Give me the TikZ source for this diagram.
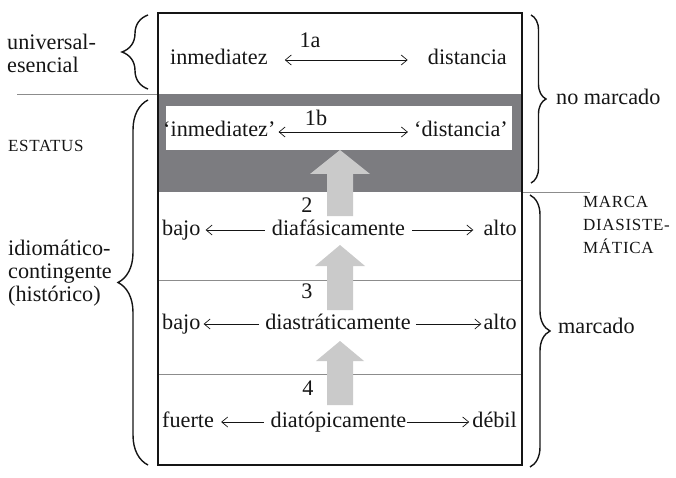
\documentclass[tikz,border=0pt]{standalone}
\usepackage{fontspec}
\setmainfont{Liberation Serif}
\usetikzlibrary{arrows.meta,decorations.pathreplacing}
\definecolor{band}{HTML}{7C7C80}
\definecolor{arrowfill}{HTML}{CACACA}
\definecolor{rulegrey}{HTML}{8C8C8C}
\definecolor{ink}{HTML}{151515}
\begin{document}
\begin{tikzpicture}[x=1pt,y=-1pt,
  every node/.style={inner sep=0pt, text=ink},
  txt/.style={font=\fontsize{22.2}{23}\selectfont, text height=10pt, text depth=0pt},
  lbl/.style={font=\fontsize{22.2}{23}\selectfont, align=left},
  caps/.style={font=\fontsize{17}{23}\selectfont\addfontfeature{LetterSpace=4}, align=left},
  conn/.style={draw=ink, line width=0.7pt, -{Straight Barb[length=6pt,width=10pt]}},
  dconn/.style={draw=ink, line width=0.7pt, {Straight Barb[length=6pt,width=10pt]}-{Straight Barb[length=6pt,width=10pt]}},
  bigarr/.style={fill=arrowfill},
  rowrule/.style={draw=rulegrey, line width=0.8pt},
  lbrace/.style={decorate, decoration={brace, amplitude=#1}, draw=ink, line width=1.4pt},
  frame/.style={draw=ink, line width=1.4pt}
]
\useasboundingbox (0,0) rectangle (676,478);

% shaded band and inner white strip
\fill[band] (158,94) rectangle (522,192);
\fill[white] (166,106) rectangle (512,150);

% rules
\draw[rowrule] (158,280) -- (522,280);
\draw[rowrule] (158,374) -- (522,374);
\draw[rowrule] (17,94) -- (158,94);
\draw[rowrule] (522,192) -- (590,192);

% big upward arrows
\fill[bigarr] (327,216) -- (327,174) -- (310,174) -- (340,150) -- (370,174) -- (353,174) -- (353,216) -- cycle;
\fill[bigarr] (327,310) -- (327,266) -- (315,266) -- (340,245) -- (365,266) -- (353,266) -- (353,310) -- cycle;
\fill[bigarr] (327,405) -- (327,361) -- (316,361) -- (340,341) -- (364,361) -- (353,361) -- (353,405) -- cycle;

% frame
\draw[frame] (158,13) rectangle (522,465);

% row 1a
\node[txt, anchor=base west] (inm) at (170,65) {inmediatez};
\node[txt, anchor=base east] (dis) at (507,65) {distancia};
\node[txt, anchor=base] (n1a) at (310,48) {1a};
\draw[dconn, shorten <=17pt, shorten >=20pt] (inm.east) -- (dis.west);

% row 1b
\node[txt, anchor=base west] (inmq) at (163,137) {‘inmediatez’};
\node[txt, anchor=base east] (disq) at (508,137) {‘distancia’};
\node[txt, anchor=base] (n1b) at (316,126) {1b};
\draw[dconn, shorten <=3pt, shorten >=6pt] (inmq.east) -- (disq.west);

% row 2
\node[txt, anchor=base west] (bajo2) at (162,235) {bajo};
\node[txt, anchor=base] (dfa) at (338.5,235) {diafásicamente};
\node[txt, anchor=base east] (alto2) at (517,235) {alto};
\node[txt, anchor=base] (n2) at (307,212) {2};
\draw[conn, shorten <=7pt, shorten >=5pt] (dfa.west) -- (bajo2.east);
\draw[conn, shorten <=7pt, shorten >=10pt] (dfa.east) -- (alto2.west);

% row 3
\node[txt, anchor=base west] (bajo3) at (162,329) {bajo};
\node[txt, anchor=base] (dst) at (338,329) {diastráticamente};
\node[txt, anchor=base east] (alto3) at (517,329) {alto};
\node[txt, anchor=base] (n3) at (307,298) {3};
\draw[conn, shorten <=6pt, shorten >=3pt] (dst.west) -- (bajo3.east);
\draw[conn, shorten <=5pt, shorten >=2pt] (dst.east) -- (alto3.west);

% row 4
\node[txt, anchor=base west] (fuerte) at (162,427) {fuerte};
\node[txt, anchor=base] (dto) at (338.5,427) {diatópicamente};
\node[txt, anchor=base east] (debil) at (517,427) {débil};
\node[txt, anchor=base] (n4) at (308,395) {4};
\draw[conn, shorten <=7pt, shorten >=7pt] (dto.west) -- (fuerte.east);
\draw[conn, shorten <=0pt, shorten >=3pt] (dto.east) -- (debil.west);

% side labels (base anchor = baseline of last line)
\node[lbl, anchor=base west] (univ) at (7,73) {universal-\\esencial};
\node[caps, anchor=base west] (estatus) at (8,152) {ESTATUS};
\node[lbl, anchor=base west] (idio) at (8,301) {idiomático-\\contingente\\(histórico)};
\node[lbl, anchor=base west] (nomarc) at (556,105) {no marcado};
\node[lbl, anchor=base west] (marc) at (558,333) {marcado};
\node[caps, anchor=base west] (marca) at (583,253) {MARCA\\DIASISTE-\\MÁTICA};

% braces
\draw[lbrace=26pt] (148,89) -- (148,15);
\draw[lbrace=30pt] (148,465) -- (148,100);
\draw[lbrace=15pt] (531,15) -- (531,183);
\draw[lbrace=20pt] (530,195) -- (530,467);
\end{tikzpicture}
\end{document}
